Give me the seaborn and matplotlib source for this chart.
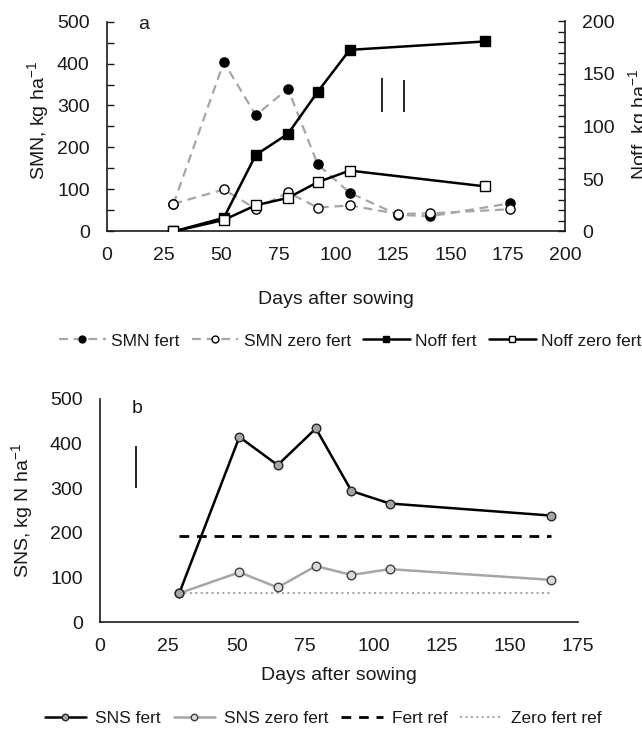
import matplotlib
matplotlib.use("Agg")
import matplotlib.pyplot as plt
import seaborn as sns
import pandas as pd
from matplotlib.ticker import MultipleLocator, NullFormatter

# ---- panel a: soil mineral N and N offtake ----
smn_days = [29, 51, 65, 79, 92, 106, 127, 141, 176]
smn_fert = [65, 403, 277, 340, 160, 92, 40, 36, 67]
smn_zero = [66, 100, 54, 93, 57, 62, 42, 43, 53]

noff_days = [29, 51, 65, 79, 92, 106, 165]
noff_fert = [0, 13, 73, 93, 133, 173, 181]
noff_zero = [0, 11, 25, 32, 47, 58, 43]

# LSD bars: (day, low, high)
lsd_smn = (120, 285, 365)
lsd_noff = (129.5, 114, 144)

# ---- panel b: soil N supply ----
sns_days = [29, 51, 65, 79, 92, 106, 165]
sns_fert = [65, 415, 352, 434, 294, 266, 239]
sns_zero = [65, 112, 78, 126, 106, 119, 95]

ref_days = [29, 165]
fert_ref = [194, 194]
zero_ref = [66, 66]
lsd_sns = (13, 300, 395)

legend_a = ["SMN fert", "SMN zero fert", "Noff fert", "Noff zero fert"]
legend_b = ["SNS fert", "SNS zero fert", "Fert ref", "Zero fert ref"]

sns.set_style("white")
plt.rcParams["font.family"] = ["Liberation Sans", "DejaVu Sans"]
plt.rcParams["mathtext.default"] = "regular"

INK = "#1a1a1a"
GREY = "#a6a6a6"
FS = 14

fig = plt.figure(figsize=(6.42, 7.35), dpi=100)
ax = fig.add_axes([107 / 642, 1 - 231.5 / 735, 458 / 642, 210 / 735])
ax2 = ax.twinx()
bx = fig.add_axes([100 / 642, 1 - 622.3 / 735, 478.3 / 642, 223.3 / 735])

dash = (0, (4, 2.6))
MS_A = 6.6

sns.lineplot(x=smn_days, y=smn_fert, ax=ax, color=GREY, lw=1.6, linestyle=dash,
             marker="o", markersize=MS_A, markerfacecolor="black",
             markeredgecolor="black", markeredgewidth=1, label=legend_a[0],
             legend=False, zorder=3)
sns.lineplot(x=smn_days, y=smn_zero, ax=ax, color=GREY, lw=1.6, linestyle=dash,
             marker="o", markersize=MS_A, markerfacecolor="white",
             markeredgecolor="black", markeredgewidth=1, label=legend_a[1],
             legend=False, zorder=3)
sns.lineplot(x=noff_days, y=noff_fert, ax=ax2, color="black", lw=1.8,
             marker="s", markersize=MS_A, markerfacecolor="black",
             markeredgecolor="black", markeredgewidth=1, label=legend_a[2],
             legend=False, zorder=3)
sns.lineplot(x=noff_days, y=noff_zero, ax=ax2, color="black", lw=1.8,
             marker="s", markersize=MS_A, markerfacecolor="white",
             markeredgecolor="black", markeredgewidth=1, label=legend_a[3],
             legend=False, zorder=3)

ax.vlines(lsd_smn[0], lsd_smn[1], lsd_smn[2], color="black", lw=1.2)
ax2.vlines(lsd_noff[0], lsd_noff[1], lsd_noff[2], color="black", lw=1.2)

sns.lineplot(x=sns_days, y=sns_fert, ax=bx, color="black", lw=1.8,
             marker="o", markersize=6.2, markerfacecolor="#a6a6a6",
             markeredgecolor="#262626", markeredgewidth=1, label=legend_b[0],
             legend=False, zorder=4)
sns.lineplot(x=sns_days, y=sns_zero, ax=bx, color=GREY, lw=1.8,
             marker="o", markersize=6.2, markerfacecolor="#d9d9d9",
             markeredgecolor="#404040", markeredgewidth=1, label=legend_b[1],
             legend=False, zorder=3)
sns.lineplot(x=ref_days, y=fert_ref, ax=bx, color="black", lw=2,
             linestyle=(0, (3.5, 2.8)), label=legend_b[2], legend=False, zorder=2)
sns.lineplot(x=ref_days, y=zero_ref, ax=bx, color=GREY, lw=1.5,
             linestyle=(0, (1, 1.6)), label=legend_b[3], legend=False, zorder=2)
bx.vlines(lsd_sns[0], lsd_sns[1], lsd_sns[2], color="black", lw=1.2)


def style_axis(a, xmax):
    a.set_xlim(0, xmax)
    a.xaxis.set_major_locator(MultipleLocator(25))
    a.tick_params(axis="x", direction="in", length=5, width=1, colors=INK,
                  labelsize=FS, pad=11, top=False)
    a.tick_params(axis="y", which="both", direction="in", length=5, width=1,
                  colors=INK, labelsize=FS, pad=12.5, right=False)
    a.set_ylim(0, 500)
    a.yaxis.set_major_locator(MultipleLocator(100))
    a.yaxis.set_minor_locator(MultipleLocator(50))
    a.yaxis.set_minor_formatter(NullFormatter())
    for s in ("left", "bottom"):
        a.spines[s].set_color(INK)
        a.spines[s].set_linewidth(1.2)
    a.spines["top"].set_visible(False)
    a.set_xlabel("")
    a.set_ylabel("")


style_axis(ax, 200)
ax.spines["right"].set_visible(False)

ax2.set_ylim(0, 200)
ax2.yaxis.set_major_locator(MultipleLocator(50))
ax2.yaxis.set_minor_locator(MultipleLocator(10))
ax2.yaxis.set_minor_formatter(NullFormatter())
ax2.tick_params(axis="y", which="both", direction="in", length=5, width=1,
                colors=INK, labelsize=FS, pad=12.5)
ax2.spines["top"].set_visible(False)
ax2.spines["left"].set_visible(False)
ax2.spines["bottom"].set_visible(False)
ax2.spines["right"].set_color(INK)
ax2.spines["right"].set_linewidth(1.2)
ax2.set_ylabel("")
ax2.set_xlim(0, 200)

style_axis(bx, 175)
bx.spines["right"].set_visible(False)

# axis titles
fig.text(38 / 642, 1 - 121 / 735, "SMN, kg ha$^{-1}$", rotation=90, ha="center",
         va="center", fontsize=FS, color=INK)
fig.text(639 / 642, 1 - 124 / 735, "Noff, kg ha$^{-1}$", rotation=90, ha="center",
         va="center", fontsize=FS, color=INK)
fig.text(336 / 642, 1 - 300 / 735, "Days after sowing", ha="center", va="center",
         fontsize=FS, color=INK)
fig.text(22 / 642, 1 - 510 / 735, "SNS, kg N ha$^{-1}$", rotation=90, ha="center",
         va="center", fontsize=FS, color=INK)
fig.text(339 / 642, 1 - 675 / 735, "Days after sowing", ha="center", va="center",
         fontsize=FS, color=INK)

# panel letters
ax.text(16, 492, "a", fontsize=FS, color=INK, ha="center", va="center")
bx.text(13.5, 478, "b", fontsize=FS, color=INK, ha="center", va="center")

# legends
h1, l1 = ax.get_legend_handles_labels()
h2, l2 = ax2.get_legend_handles_labels()
fig.legend(h1 + h2, l1 + l2, loc="center", bbox_to_anchor=(350 / 642, 1 - 341 / 735),
           ncol=4, frameon=False, fontsize=12.5, handlelength=2.7,
           handletextpad=0.3, columnspacing=0.7, markerscale=0.75,
           labelcolor=INK, borderaxespad=0, borderpad=0)

hb, lb = bx.get_legend_handles_labels()
fig.legend(hb, lb, loc="center", bbox_to_anchor=(323 / 642, 1 - 718 / 735),
           ncol=4, frameon=False, fontsize=12.5, handlelength=2.4,
           handletextpad=0.5, columnspacing=0.75, markerscale=0.75,
           labelcolor=INK, borderaxespad=0, borderpad=0)

fig.savefig("out.png", dpi=100, facecolor="white")
